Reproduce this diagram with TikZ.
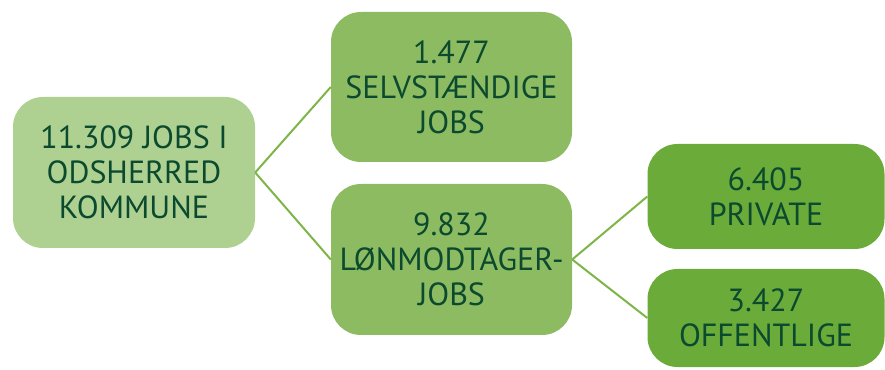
\documentclass[tikz,border=0pt]{standalone}
\usepackage{fontspec}
\setmainfont{PT Sans}
\usepackage{tikz}

\definecolor{jobtext}{HTML}{0B4A2E}
\definecolor{lightgrn}{HTML}{AED091}
\definecolor{midgrn}{HTML}{8CBB62}
\definecolor{darkgrn}{HTML}{6AAB3A}
\definecolor{linkgrn}{HTML}{7DB548}

\begin{document}
\begin{tikzpicture}[
x=1pt,y=1pt,
jobbox/.style={
  rounded corners=30pt,
  minimum width=241pt,
  minimum height=151pt,
  align=center,
  text=jobtext,
  font=\fontsize{32}{35}\selectfont
  },
link/.style={draw=linkgrn,line width=2pt}
]
\useasboundingbox (0,0) rectangle (885,369);
\node[jobbox,fill=lightgrn,minimum width=242pt] (total) at (134,196.5) {11.309 JOBS I\\ODSHERRED\\KOMMUNE};
\node[jobbox,fill=midgrn,minimum height=150pt] (selv) at (451.5,282) {1.477\\SELVSTÆNDIGE\\JOBS};
\node[jobbox,fill=midgrn] (loen) at (451.5,109.5) {9.832\\LØNMODTAGER-\\JOBS};
\node[jobbox,fill=darkgrn,minimum width=237pt,minimum height=105pt] (priv) at (766,172.5) {6.405\\PRIVATE};
\node[jobbox,fill=darkgrn,minimum width=237pt,minimum height=98pt] (off) at (766,51) {3.427\\OFFENTLIGE};
\path[link]
	(total.east) edge (selv.west)
	(total.east) edge (loen.west)
	(loen.east) edge (priv.west)
	(loen.east) edge (off.west);
\end{tikzpicture}
\end{document}
